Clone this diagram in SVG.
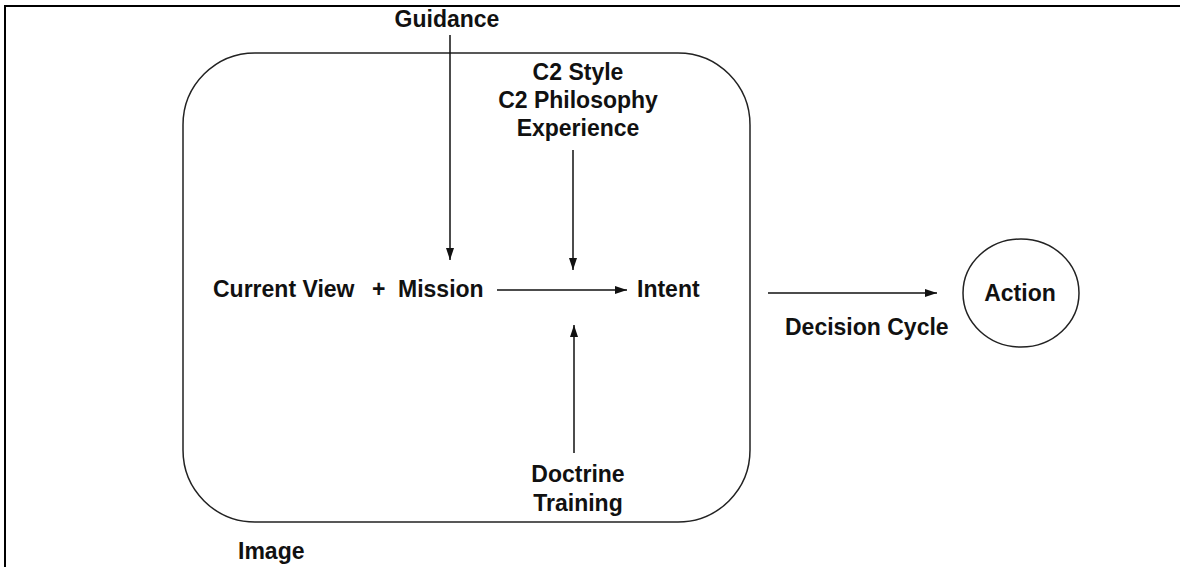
<svg xmlns="http://www.w3.org/2000/svg" width="1180" height="567" viewBox="0 0 1180 567">
  <style>
    .lbl { font-family: "Liberation Sans", Arial, sans-serif; font-weight: bold; font-size: 23px; fill: #111; }
    .mid { text-anchor: middle; }
    .edge { stroke: #111; stroke-width: 1.5; fill: none; }
  </style>
  <defs>
    <marker id="arrow" viewBox="0 0 12 8" refX="12" refY="4" markerWidth="12" markerHeight="8" markerUnits="userSpaceOnUse" orient="auto">
      <path d="M0,0 L12,4 L0,8 Z" fill="#111"/>
    </marker>
  </defs>
  <rect width="1180" height="567" fill="#fff"/>

  <!-- outer frame -->
  <path d="M5,567 V6 H1180" fill="none" stroke="#000" stroke-width="2"/>

  <g id="image">
    <rect x="183" y="53" width="567" height="469" rx="72" ry="72" fill="none" stroke="#222" stroke-width="1.5"/>
    <text class="lbl" x="238" y="559">Image</text>
  </g>

  <g id="guidance">
    <text class="lbl mid" x="447" y="27">Guidance</text>
  </g>

  <g id="c2">
    <text class="lbl mid" x="578" y="80">C2 Style</text>
    <text class="lbl mid" x="578" y="108">C2 Philosophy</text>
    <text class="lbl mid" x="578" y="136">Experience</text>
  </g>

  <g id="mission">
    <text class="lbl"><tspan x="213" y="297">Current View</tspan><tspan x="372" y="297">+</tspan><tspan x="398" y="297">Mission</tspan></text>
  </g>

  <g id="intent">
    <text class="lbl" x="637" y="297">Intent</text>
  </g>

  <g id="doctrine">
    <text class="lbl mid" x="578" y="482">Doctrine</text>
    <text class="lbl mid" x="578" y="511">Training</text>
  </g>

  <g id="decision">
    <text class="lbl" x="785" y="335">Decision Cycle</text>
  </g>

  <g id="action">
    <ellipse cx="1021" cy="293" rx="58" ry="54" fill="none" stroke="#222" stroke-width="1.5"/>
    <text class="lbl mid" x="1020" y="301">Action</text>
  </g>

  <g id="connectors">
    <line class="edge" x1="450" y1="35" x2="450" y2="260" marker-end="url(#arrow)"/>
    <line class="edge" x1="573" y1="150" x2="573" y2="270" marker-end="url(#arrow)"/>
    <line class="edge" x1="574" y1="453" x2="574" y2="325" marker-end="url(#arrow)"/>
    <line class="edge" x1="497" y1="290" x2="627" y2="290" marker-end="url(#arrow)"/>
    <line class="edge" x1="768" y1="293" x2="937" y2="293" marker-end="url(#arrow)"/>
  </g>
</svg>
